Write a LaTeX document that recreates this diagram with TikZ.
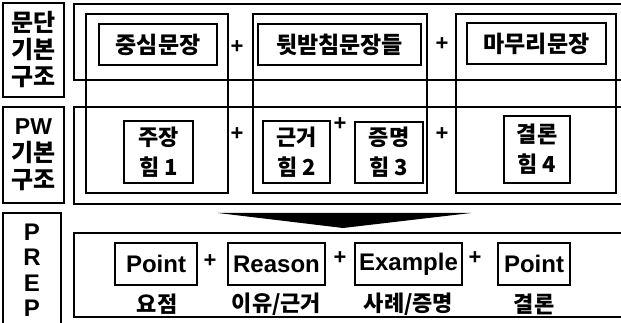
\documentclass[tikz,border=0pt]{standalone}
\usepackage{fontspec}
\setmainfont{Liberation Sans}
\newfontfamily\kr{Noto Sans CJK KR}
\tikzset{
  x=1pt, y=-1pt,
  line/.style={line width=1.8pt, draw=black},
  outerbox/.style={line, rectangle, inner sep=0pt},
  labbox/.style={line, rectangle, inner sep=0pt, align=center, font=\kr\bfseries\fontsize{24}{27}\selectfont},
  krbox/.style={line, rectangle, inner sep=0pt, align=center, font=\kr\bfseries\fontsize{23}{30}\selectfont},
  krtwo/.style={line, rectangle, inner sep=0pt, align=center, font=\kr\bfseries\fontsize{22}{30}\selectfont},
  enbox/.style={line, rectangle, inner sep=0pt, font=\bfseries\fontsize{24}{26}\selectfont},
  caption/.style={inner sep=0pt, font=\kr\bfseries\fontsize{22}{24}\selectfont},
  plus/.style={inner sep=0pt, font=\bfseries\fontsize{22}{24}\selectfont},
  prep/.style={inner sep=0pt, font=\bfseries\fontsize{24}{26}\selectfont},
}
\begin{document}
\begin{tikzpicture}
\useasboundingbox (0,0) rectangle (621,323);
% row frames (extend beyond right edge)
\node[outerbox, minimum width=560, minimum height=76] (row1) at (354,42) {};
\node[outerbox, minimum width=560, minimum height=97] (row2) at (354,155.5) {};
\node[outerbox, minimum width=560, minimum height=84] (row3) at (354,275) {};
% column frames
\node[outerbox, minimum width=142, minimum height=179] (col1) at (157,103.5) {};
\node[outerbox, minimum width=174, minimum height=179] (col2) at (340,103.5) {};
\node[outerbox, minimum width=160, minimum height=179] (col3) at (536,103.5) {};
% left labels
\node[labbox, minimum width=61, minimum height=94] (lab1) at (33.5,50) {문단\\기본\\구조};
\node[labbox, minimum width=61, minimum height=96] (lab2) at (33.5,155) {{\normalfont\bfseries\fontsize{23}{27}\selectfont PW}\\기본\\구조};
\node[outerbox, minimum width=58, minimum height=122] (lab3) at (32,274) {};
\node[prep] (p1) at (32,232) {P};
\node[prep] (p2) at (32,257) {R};
\node[prep] (p3) at (32,283) {E};
\node[prep] (p4) at (32,308) {P};
% row 1
\node[krbox, minimum width=118, minimum height=41] (c1) at (158,44.5) {중심문장};
\node[krbox, minimum width=163, minimum height=41] (c2) at (339.5,44.5) {뒷받침문장들};
\node[krbox, minimum width=139, minimum height=41] (c3) at (536.5,43.5) {마무리문장};
\node[plus] (pa1) at (237,47) {+};
\node[plus] (pa2) at (442,44) {+};
% row 2
\node[krtwo, minimum width=69, minimum height=62] (d1) at (158.5,152) {주장\\힘 1};
\node[krtwo, minimum width=67, minimum height=62] (d2) at (296.5,152) {근거\\힘 2};
\node[krtwo, minimum width=68, minimum height=61] (d3) at (389,152.5) {증명\\힘 3};
\node[krtwo, minimum width=66, minimum height=67] (d4) at (537,149.5) {결론\\힘 4};
\node[plus] (pb1) at (237,134) {+};
\node[plus] (pb2) at (340,124) {+};
\node[plus] (pb3) at (442,134) {+};
% wedge
\fill[black] (218,213) -- (471,213) -- (343,228) -- cycle;
% row 3
\node[enbox, minimum width=82, minimum height=42] (e1) at (156,264) {Point};
\node[enbox, minimum width=97, minimum height=42] (e2) at (276.5,264) {Reason};
\node[enbox, minimum width=107, minimum height=42] (e3) at (408.5,264) {Example};
\node[enbox, minimum width=72, minimum height=42] (e4) at (534,264) {Point};
\node[plus] (pc1) at (210,261) {+};
\node[plus] (pc2) at (340,258) {+};
\node[plus] (pc3) at (475,258) {+};
\node[caption] (t1) at (157,304) {요점};
\node[caption] (t2) at (276.5,304) {이유/근거};
\node[caption] (t3) at (408.5,304) {사례/증명};
\node[caption] (t4) at (534,304) {결론};
\end{tikzpicture}
\end{document}
